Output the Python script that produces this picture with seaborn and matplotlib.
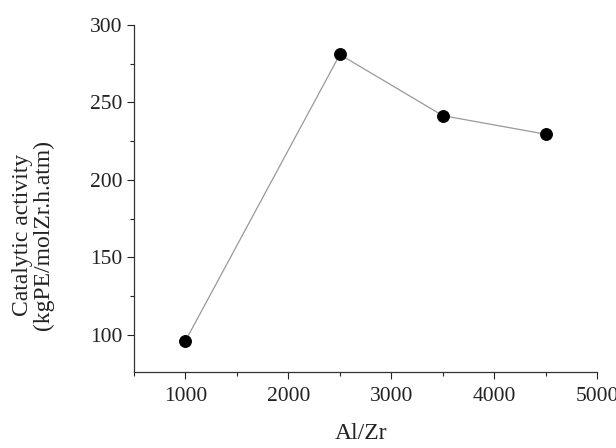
import matplotlib
matplotlib.use("Agg")
import matplotlib.pyplot as plt
import seaborn as sns
import pandas as pd
from matplotlib.ticker import MultipleLocator

# datos
al_zr = [1000, 2500, 3500, 4500]
actividad = [96, 281, 241.5, 229.5]

df = pd.DataFrame({"Al/Zr": al_zr, "actividad": actividad})

sns.set_style("ticks")
plt.rcParams["font.family"] = ["Liberation Serif", "DejaVu Serif"]

fig = plt.figure(figsize=(6.16, 4.48), dpi=100)
ax = fig.add_axes([0.2175, 0.17, 0.752, 0.774])

sns.lineplot(data=df, x="Al/Zr", y="actividad", ax=ax, color="#999999",
             linewidth=0.9, marker="o", markersize=8.5, markerfacecolor="black",
             markeredgecolor="black")

ax.set_xlim(500, 5000)
ax.set_ylim(76, 300)
ax.xaxis.set_minor_locator(MultipleLocator(500))
ax.yaxis.set_minor_locator(MultipleLocator(25))
ax.set_xticks([1000, 2000, 3000, 4000, 5000])
ax.set_yticks([100, 150, 200, 250, 300])
ax.tick_params(which="major", length=5, width=0.8, labelsize=15.5, colors="#222222")
ax.tick_params(axis="x", which="major", pad=6)
ax.tick_params(which="minor", length=3, width=0.8)
for s in ["left", "bottom"]:
    ax.spines[s].set_linewidth(0.9)
    ax.spines[s].set_color("#333333")
sns.despine(ax=ax)

ax.set_xlabel("Al/Zr", fontsize=17, color="#222222")
ax.set_ylabel("Catalytic activity\n(kgPE/molZr.h.atm)", fontsize=17,
              color="#222222", linespacing=1.0)
ax.xaxis.set_label_coords(0.49, -0.148)
ax.yaxis.set_label_coords(-0.172, 0.395)

fig.savefig("out.png", dpi=100)
